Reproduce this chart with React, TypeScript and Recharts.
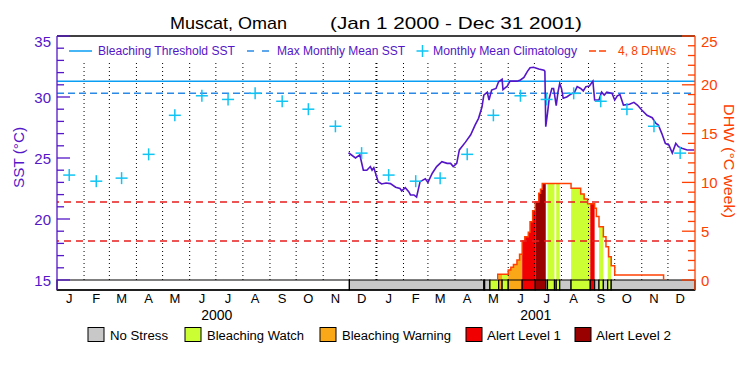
import { Area, ComposedChart, Line, ReferenceArea, ReferenceLine, XAxis, YAxis } from 'recharts';

const monthLetters = ['J', 'F', 'M', 'A', 'M', 'J', 'J', 'A', 'S', 'O', 'N', 'D'];
// day offsets from Jan 1 2000 of each month start, plus the end
const monthStarts = [0, 31, 60, 91, 121, 152, 182, 213, 244, 274, 305, 335, 366, 397, 425, 456, 486, 517, 547, 578, 609, 639, 670, 700, 731];
const yearLabels = ['2000', '2001'];
const yearStarts = [0, 366, 731];

const climatology = [23.6, 23.1, 23.35, 25.3, 28.5, 30.1, 29.8, 30.3, 29.65, 29.0, 27.6, 25.4];
const maxMonthlyMean = 30.3;
const bleachingThreshold = 31.3;
const dhwThresholds = [4, 8];

const sstDays = [334, 342, 347, 351, 355, 359, 361, 363, 365, 368, 372, 377, 382, 388, 393, 395, 399, 403, 405, 409, 412, 416, 422, 425, 430, 435, 441, 447, 451, 454, 458, 461, 468, 474, 479, 483, 487, 489, 493, 495, 498, 503, 506, 510, 511, 516, 519, 527, 531, 535, 539, 542, 546, 552, 558, 559, 560, 562, 564, 567, 569, 572, 574, 576, 578, 580, 584, 588, 593, 596, 600, 603, 606, 610, 614, 616, 621, 624, 627, 630, 636, 639, 642, 645, 649, 656, 661, 665, 670, 676, 682, 686, 689, 693, 697, 701, 705, 709, 712, 716, 722, 730];
const sstValues = [25.43, 25.0, 25.25, 24.0, 24.0, 24.3, 24.0, 24.2, 23.75, 23.06, 22.87, 22.95, 22.9, 22.6, 22.5, 22.3, 22.57, 22.24, 21.97, 21.97, 21.8, 23.06, 23.3, 23.0, 23.75, 24.3, 24.7, 24.56, 24.56, 24.3, 24.56, 25.66, 26.3, 26.9, 27.7, 28.25, 29.2, 30.16, 30.4, 29.75, 30.57, 30.7, 31.25, 31.45, 30.6, 30.9, 31.3, 31.3, 31.4, 31.6, 32.1, 32.4, 32.44, 32.3, 32.2, 32.1, 27.57, 28.66, 29.9, 30.7, 30.7, 29.3, 30.4, 31.1, 30.7, 29.9, 30.0, 30.2, 30.4, 30.85, 30.7, 30.5, 30.85, 30.9, 31.3, 29.75, 29.75, 30.4, 30.16, 30.4, 30.3, 29.75, 30.1, 30.2, 29.34, 29.4, 29.56, 29.34, 28.93, 28.5, 28.3, 27.85, 27.7, 27.0, 26.2, 26.07, 25.4, 26.2, 25.93, 25.8, 25.66, 25.66];

const dhwDays = [505, 517, 520, 523, 527, 530, 533, 536, 540, 542, 545, 548, 552, 554, 556, 589, 600, 604, 608, 616, 618, 621, 626, 629, 632, 635, 639, 695];
const dhwValues = [0.58, 1.02, 1.3, 1.6, 2.05, 2.63, 4.0, 4.44, 4.88, 5.98, 7.1, 8.0, 8.9, 9.3, 9.9, 9.4, 8.8, 8.3, 7.8, 7.35, 6.5, 5.46, 4.44, 3.4, 2.39, 1.47, 0.51, 0];

// -1 no data, 0 no stress, 1 watch, 2 warning, 3 alert 1, 4 alert 2
const statusDays = [0, 335, 489, 490, 496, 506, 510, 517, 533, 548, 560, 562, 570, 572, 576, 589, 611, 616, 621, 626, 631, 635];
const statusLevels = [-1, 0, 1, 0, 1, 2, 1, 2, 3, 4, 0, 1, 0, 1, 0, 1, 3, 0, 1, 0, 1, 0];

const levelNames = ['No Stress', 'Bleaching Watch', 'Bleaching Warning', 'Alert Level 1', 'Alert Level 2'];
const levelColors = ['#c8c8c8', '#ccff33', '#faa818', '#f00000', '#990000'];

const FONT = "'Liberation Sans', 'DejaVu Sans', Arial, sans-serif";
const PURPLE = '#5416c8';
const ORANGE = '#ff4000';
const RED = '#e81c1c';
const THRESH_BLUE = '#0a9ef5';
const MMM_BLUE = '#2a8ae6';
const CYAN = '#10c4f4';

const SST_MIN = 35 - (20 * 254) / 244;
const DHW_MIN = 25 - (25 * 254) / 244;
const sstTicks = Array.from({ length: 21 }, (_, i) => 15 + i);
const dhwTicks = Array.from({ length: 26 }, (_, i) => i);

const sstData = sstDays.map((day, i) => ({ day, v: sstValues[i] }));
const climData = yearStarts.slice(0, 2).flatMap((_, y) =>
  climatology.map((v, m) => ({ day: monthStarts[y * 12 + m] + 14, v })),
);
const monthMids = monthStarts.slice(0, 24).map((d) => d + 14);
const yearMids = yearLabels.map((_, i) => (yearStarts[i] + yearStarts[i + 1]) / 2);

const lastDay = 731;
const statusSegments = statusDays.map((d, i) => ({
  x1: d,
  x2: i < statusDays.length - 1 ? statusDays[i + 1] : lastDay,
  level: statusLevels[i],
}));

function statusAt(day: number) {
  let s = -1;
  statusDays.forEach((d, i) => {
    if (d <= day) s = statusLevels[i];
  });
  return s;
}
function dhwAt(day: number) {
  let v = 0;
  dhwDays.forEach((d, i) => {
    if (d <= day) v = dhwValues[i];
  });
  return v;
}

const dhwStart = dhwDays[0];
const dhwEnd = dhwDays[dhwDays.length - 1];
const breaks = Array.from(new Set([...dhwDays, ...statusDays.filter((d) => d > dhwStart && d < dhwEnd)])).sort((a, b) => a - b);
const levelAreas = [1, 2, 3, 4].map((level) => ({
  level,
  data: breaks.map((d) => ({ day: d, v: statusAt(d) === level ? dhwAt(d) : 0 })),
}));
const dhwOutline = [{ day: dhwStart, v: 0 }, ...dhwDays.map((day, i) => ({ day, v: dhwValues[i] }))];

function LeftTick(props: any) {
  const { x, y, payload } = props;
  const v = payload.value;
  const major = v % 5 === 0;
  return (
    <g>
      <line x1={x} x2={x + (major ? 13 : 7)} y1={y} y2={y} stroke={PURPLE} strokeWidth={1.3} />
      {major && (
        <text x={x - 6} y={y + (v === 35 ? 5 : 0) + 5.5} textAnchor="end" fill={PURPLE} fontSize={15} fontFamily={FONT}>
          {v}
        </text>
      )}
    </g>
  );
}

function RightTick(props: any) {
  const { x, y, payload } = props;
  const v = payload.value;
  const major = v % 5 === 0;
  return (
    <g>
      <line x1={x} x2={x - (major ? 13 : 7)} y1={y} y2={y} stroke={ORANGE} strokeWidth={1.3} />
      {major && (
        <text x={x + 6} y={y + (v === 25 ? 5 : 0) + 5.5} textAnchor="start" fill={ORANGE} fontSize={15} fontFamily={FONT}>
          {v}
        </text>
      )}
    </g>
  );
}

function Cross(props: any) {
  const { cx, cy } = props;
  if (cx == null || cy == null) return null;
  return (
    <g>
      <line x1={cx - 6} x2={cx + 6} y1={cy} y2={cy} stroke={CYAN} strokeWidth={1.5} />
      <line x1={cx} x2={cx} y1={cy - 6} y2={cy + 6} stroke={CYAN} strokeWidth={1.5} />
    </g>
  );
}

function Overlay() {
  const txt = { fontFamily: FONT };
  const bottomItems = [
    { box: 88, text: 110, w: 58 },
    { box: 185, text: 207, w: 97 },
    { box: 320, text: 342, w: 109 },
    { box: 466, text: 487, w: 74 },
    { box: 575, text: 596, w: 75 },
  ];
  return (
    <svg width={750} height={375} style={{ position: 'absolute', left: 0, top: 0, pointerEvents: 'none' }}>
      <text x={170} y={29} fontSize={17} fill="#000" textLength={117} lengthAdjust="spacingAndGlyphs" {...txt}>
        Muscat, Oman
      </text>
      <text x={330} y={29} fontSize={17} fill="#000" textLength={252} lengthAdjust="spacingAndGlyphs" {...txt}>
        (Jan 1 2000 - Dec 31 2001)
      </text>

      <line x1={69} x2={92} y1={51} y2={51} stroke={THRESH_BLUE} strokeWidth={1.5} />
      <text x={98} y={55} fontSize={12} fill={PURPLE} textLength={137} lengthAdjust="spacingAndGlyphs" {...txt}>
        Bleaching Threshold SST
      </text>
      <line x1={247} x2={269} y1={51} y2={51} stroke={MMM_BLUE} strokeWidth={1.5} strokeDasharray="7 8" />
      <text x={277} y={55} fontSize={12} fill={PURPLE} textLength={128} lengthAdjust="spacingAndGlyphs" {...txt}>
        Max Monthly Mean SST
      </text>
      <Cross cx={422.5} cy={51} />
      <text x={433} y={55} fontSize={12} fill={PURPLE} textLength={144} lengthAdjust="spacingAndGlyphs" {...txt}>
        Monthly Mean Climatology
      </text>
      <line x1={589} x2={606} y1={51} y2={51} stroke={ORANGE} strokeWidth={1.5} strokeDasharray="7 3" />
      <text x={618} y={55} fontSize={12} fill={ORANGE} textLength={58} lengthAdjust="spacingAndGlyphs" {...txt}>
        4, 8 DHWs
      </text>

      <text transform="translate(24,157.5) rotate(-90)" textAnchor="middle" fontSize={15} fill={PURPLE} textLength={61} lengthAdjust="spacingAndGlyphs" {...txt}>
        SST (°C)
      </text>
      <text transform="translate(724,161) rotate(90)" textAnchor="middle" fontSize={15} fill={ORANGE} textLength={114} lengthAdjust="spacingAndGlyphs" {...txt}>
        DHW (°C week)
      </text>

      {bottomItems.map((it, i) => (
        <g key={levelNames[i]}>
          <rect x={it.box} y={327.5} width={16} height={14} fill={levelColors[i]} stroke="#000" strokeWidth={1} />
          <text x={it.text} y={340} fontSize={12.5} fill="#000" textLength={it.w} lengthAdjust="spacingAndGlyphs" {...txt}>
            {levelNames[i]}
          </text>
        </g>
      ))}
    </svg>
  );
}

export default function App() {
  return (
    <div style={{ position: 'absolute', left: 0, top: 0, width: 750, height: 375, background: '#fff' }}>
      <ComposedChart width={750} height={375} margin={{ top: 36, right: 54, left: 0, bottom: 49 }}>
        <XAxis
          dataKey="day"
          type="number"
          domain={[0, lastDay]}
          allowDataOverflow
          ticks={monthMids}
          interval={0}
          tickFormatter={(_v: number, i: number) => monthLetters[i % 12]}
          tickLine={false}
          tickSize={0}
          tickMargin={4}
          height={16}
          axisLine={{ stroke: '#000', strokeWidth: 1.3 }}
          tick={{ fill: '#000', fontSize: 13, fontFamily: FONT }}
        />
        <XAxis
          xAxisId="yr"
          dataKey="day"
          type="number"
          domain={[0, lastDay]}
          allowDataOverflow
          ticks={yearMids}
          interval={0}
          tickFormatter={(_v: number, i: number) => yearLabels[i]}
          tickLine={false}
          tickSize={0}
          tickMargin={4}
          height={20}
          axisLine={false}
          tick={{ fill: '#000', fontSize: 14, fontFamily: FONT }}
        />
        <YAxis
          yAxisId="sst"
          orientation="left"
          type="number"
          domain={[SST_MIN, 35]}
          allowDataOverflow
          ticks={sstTicks}
          interval={0}
          width={57}
          tickLine={false}
          tickSize={0}
          tickMargin={0}
          axisLine={{ stroke: PURPLE, strokeWidth: 1.3 }}
          tick={<LeftTick />}
        />
        <YAxis
          yAxisId="dhw"
          orientation="right"
          type="number"
          domain={[DHW_MIN, 25]}
          allowDataOverflow
          ticks={dhwTicks}
          interval={0}
          width={1}
          tickLine={false}
          tickSize={0}
          tickMargin={0}
          axisLine={{ stroke: ORANGE, strokeWidth: 1.3 }}
          tick={<RightTick />}
        />

        <ReferenceLine yAxisId="sst" y={35} stroke="#000" strokeWidth={1.3} />
        {monthStarts.slice(1, 24).map((d) => (
          <ReferenceLine
            key={`m${d}`}
            yAxisId="sst"
            segment={[{ x: d, y: 15 }, { x: d, y: 33 }]}
            stroke="#000"
            strokeWidth={d === yearStarts[1] ? 2 : 1}
            strokeDasharray="1 3"
          />
        ))}

        {levelAreas.map((la) => (
          <Area
            key={`a${la.level}`}
            yAxisId="dhw"
            data={la.data}
            dataKey="v"
            type="stepAfter"
            stroke="none"
            fill={levelColors[la.level]}
            fillOpacity={1}
            baseValue={0}
            isAnimationActive={false}
          />
        ))}
        <Line yAxisId="dhw" data={dhwOutline} dataKey="v" type="stepAfter" stroke={ORANGE} strokeWidth={1.5} dot={false} isAnimationActive={false} />

        {dhwThresholds.map((t) => (
          <ReferenceLine key={`t${t}`} yAxisId="dhw" y={t} stroke={RED} strokeWidth={1.5} strokeDasharray="7 5" />
        ))}
        <ReferenceLine yAxisId="sst" y={bleachingThreshold} stroke={THRESH_BLUE} strokeWidth={1.5} />
        <ReferenceLine yAxisId="sst" y={maxMonthlyMean} stroke={MMM_BLUE} strokeWidth={1.5} strokeDasharray="7 4" />

        <Line yAxisId="sst" data={climData} dataKey="v" stroke="none" dot={<Cross />} activeDot={false} isAnimationActive={false} />
        <Line yAxisId="sst" data={sstData} dataKey="v" type="linear" stroke={PURPLE} strokeWidth={1.6} dot={false} isAnimationActive={false} />

        {statusSegments.map((s) => (
          <ReferenceArea
            key={`s${s.x1}`}
            yAxisId="sst"
            x1={s.x1}
            x2={s.x2}
            y1={SST_MIN}
            y2={15}
            ifOverflow="visible"
            fill={s.level < 0 ? '#fff' : levelColors[s.level]}
            fillOpacity={1}
            stroke="#000"
            strokeWidth={1.2}
          />
        ))}
      </ComposedChart>
      <Overlay />
    </div>
  );
}
